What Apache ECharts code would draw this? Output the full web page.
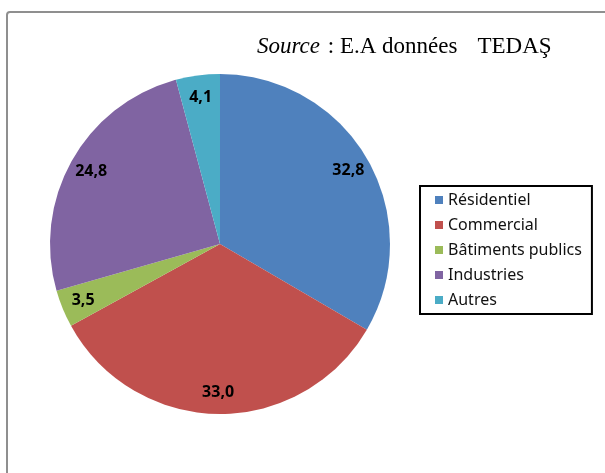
<!DOCTYPE html>
<html>
<head>
<meta charset="utf-8">
<script src="https://cdn.jsdelivr.net/npm/echarts@6/dist/echarts.min.js"></script>
<style>html,body{margin:0;padding:0;background:#fff;}#c{width:605px;height:473px;}</style>
</head>
<body>
<div id="c"></div>
<script>
var categories = ['Résidentiel', 'Commercial', 'Bâtiments publics', 'Industries', 'Autres'];
var values = [32.8, 33.0, 3.5, 24.8, 4.1];
var colors = ['#4F81BD', '#C0504D', '#9BBB59', '#8064A2', '#4BACC6'];
var sourceLabel = 'Source';
var sourceText = ' : E.A données';
var sourceName = 'TEDAŞ';

var chart = echarts.init(document.getElementById('c'), null, {renderer: 'canvas'});
var pieData = categories.map(function (c, i) {
  return {name: c, value: values[i], itemStyle: {color: colors[i]}};
});
var fmt = function (p) { return p.value.toFixed(1).replace('.', ','); };
chart.setOption({
  animation: false,
  backgroundColor: '#fff',
  graphic: [{
    type: 'rect', silent: true,
    shape: {x: 7, y: 12, width: 640, height: 500, r: 3},
    style: {fill: 'none', stroke: '#8f8f8f', lineWidth: 2}
  }],
  title: {
    text: '{i|' + sourceLabel + '}{n|' + sourceText + '}{t|' + sourceName + '}',
    left: 257, top: 34, padding: 0,
    textStyle: {
      fontWeight: 'normal',
      rich: {
        i: {fontFamily: 'Liberation Serif', fontSize: 23, fontStyle: 'italic', fontWeight: 'normal', color: '#000', lineHeight: 26},
        n: {fontFamily: 'Liberation Serif', fontSize: 23, fontWeight: 'normal', color: '#000', lineHeight: 26, padding: [0, 0, 0, 2]},
        t: {fontFamily: 'Liberation Serif', fontSize: 23, fontWeight: 'normal', color: '#000', lineHeight: 26, padding: [0, 0, 0, 20]}
      }
    }
  },
  legend: {
    orient: 'vertical', left: 420, top: 186,
    data: categories,
    icon: 'rect', itemWidth: 8, itemHeight: 8, itemGap: 9,
    padding: [6, 10, 6, 15],
    borderColor: '#000', borderWidth: 2,
    selectedMode: false,
    textStyle: {fontFamily: 'Noto Sans', fontSize: 16, color: '#111', lineHeight: 16}
  },
  series: [{
    type: 'pie', center: [220, 244], radius: [0, 170],
    startAngle: 90, clockwise: true,
    label: {show: false}, labelLine: {show: false},
    emphasis: {disabled: true},
    data: pieData
  }, {
    type: 'pie', center: [220, 244], radius: [120, 170],
    startAngle: 90, clockwise: true, silent: true,
    itemStyle: {color: 'rgba(0,0,0,0)'},
    emphasis: {disabled: true},
    label: {show: true, position: 'inside', formatter: fmt,
      fontFamily: 'Noto Sans', fontWeight: 'bold', fontSize: 16, color: '#000'},
    labelLine: {show: false},
    data: categories.map(function (c, i) { return {name: c, value: values[i], itemStyle: {color: 'rgba(0,0,0,0)'}}; })
  }]
});
</script>
</body>
</html>
